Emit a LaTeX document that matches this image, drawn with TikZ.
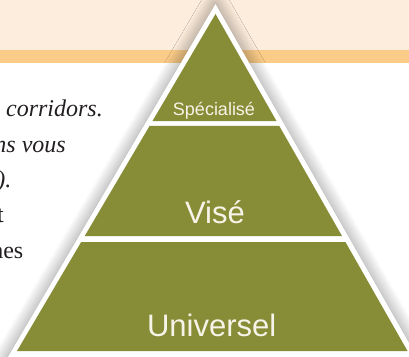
\documentclass[tikz,border=0pt]{standalone}
\usepackage{fontspec}
\setmainfont{Liberation Serif}
\newfontfamily\labelfont{Liberation Sans}
\usepackage{tikz}
\usetikzlibrary{calc, shadows.blur}
\usepackage{xcolor}
\definecolor{peach}{RGB}{253,237,220}
\definecolor{stripe}{RGB}{251,204,136}
\definecolor{olive}{RGB}{135,140,54}
\definecolor{cream}{RGB}{246,244,232}
\definecolor{ink}{RGB}{35,31,32}

\begin{document}
\begin{tikzpicture}[
        x=1pt,
        y=-1pt,
        % Styles
        tier/.style={
            fill=olive,
            draw=none
          },
        outline/.style={
            fill=white,
            blur shadow={shadow xshift=0pt, shadow yshift=0pt,
                shadow blur radius=14pt, shadow blur steps=12, shadow opacity=45}
          },
        tierlabel/.style={
            text=cream,
            inner sep=0pt,
            anchor=base
          },
        bodytext/.style={
            text=ink,
            inner sep=0pt,
            anchor=base east,
            font=\fontsize{24}{28}\selectfont
          }
      ]
      \useasboundingbox (0,0) rectangle (409,356);

      % Band at the top
      \fill[peach] (0,0) rectangle (409,50);
      \fill[stripe] (0,50) rectangle (409,63);

      % Text on the left (cut off by the page)
      \node[bodytext, font=\fontsize{24}{28}\selectfont\itshape] (line1) at (103,116) {corridors.};
      \node[bodytext, font=\fontsize{24}{28}\selectfont\itshape] (line2) at (66,152.5) {ns vous};
      \node[bodytext, font=\fontsize{24}{28}\selectfont\itshape] (line3) at (11.5,187) {).};
      \node[bodytext] (line4) at (4,222) {t};
      \node[bodytext] (line5) at (23.5,258) {nes};

      % Corners of the pyramid
      \coordinate (apex) at (215.5,14);
      \coordinate (left) at (17,351);
      \coordinate (right) at (407.5,351);

      % White outline with shadow
      \path[outline] (215.5,4) -- (8,357) -- (417,357) -- cycle;

      % Tiers
      \fill[tier] (apex) -- ($(apex)!0.3175!(left)$) -- ($(apex)!0.3175!(right)$) -- cycle;
      \fill[tier] ($(apex)!0.3323!(left)$) -- ($(apex)!0.6588!(left)$)
        -- ($(apex)!0.6588!(right)$) -- ($(apex)!0.3323!(right)$) -- cycle;
      \fill[tier] ($(apex)!0.6766!(left)$) -- (left) -- (right)
        -- ($(apex)!0.6766!(right)$) -- cycle;

      % Labels
      \node[tierlabel, font=\labelfont\fontsize{18}{18}\selectfont] (special) at (214,115) {Spécialisé};
      \node[tierlabel, font=\labelfont\fontsize{31}{31}\selectfont] (targeted) at (215,223) {Visé};
      \node[tierlabel, font=\labelfont\fontsize{31}{31}\selectfont] (universal) at (211.7,336.7) {Universel};

    \end{tikzpicture}
\end{document}
